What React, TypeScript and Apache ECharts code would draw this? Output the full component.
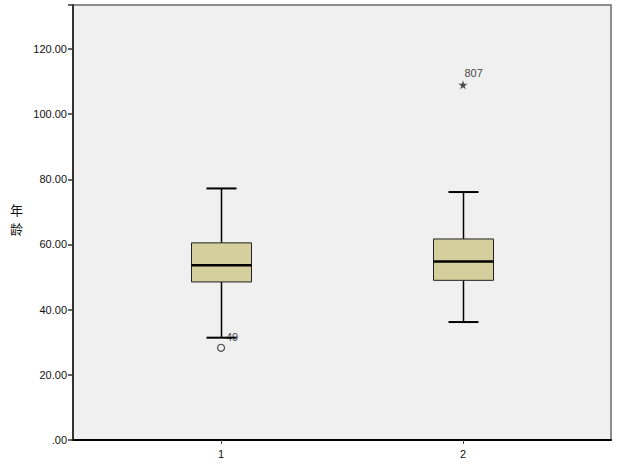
import React, { useEffect, useRef } from "react";
import * as echarts from "echarts";

// Box statistics: [category, lowerWhisker, q1, median, q3, upperWhisker]
const categories = [1, 2];
const lowerWhisker = [31.4, 36.2];
const q1 = [48.5, 49.0];
const median = [53.6, 54.8];
const q3 = [60.5, 61.7];
const upperWhisker = [77.2, 76.1];

// Outliers
const outlierX = [1, 2];
const outlierY = [28.3, 109.0];
const outlierLabels = ["49", "807"];
const outlierKinds = ["circle", "star"];

const yTicks = [0, 20, 40, 60, 80, 100, 120];

const STAR =
  "path://M50,0 L61.8,35.3 L100,35.3 L69.1,57.1 L80.9,92.7 L50,70.8 L19.1,92.7 L30.9,57.1 L0,35.3 L38.2,35.3 Z";

export default function App() {
  const ref = useRef<HTMLDivElement>(null);
  useEffect(() => {
    if (!ref.current) return;
    const chart = echarts.init(ref.current, undefined, { renderer: "svg" });
    const boxData = categories.map((c, i) => [
      c,
      lowerWhisker[i],
      q1[i],
      median[i],
      q3[i],
      upperWhisker[i],
    ]);
    const boxW = 60;
    const capW = 30;
    const option: any = {
      animation: false,
      backgroundColor: "#ffffff",
      grid: {
        left: 73,
        right: 29,
        top: 5,
        bottom: 30,
        show: true,
        backgroundColor: "#f0f0f0",
        borderColor: "#6a6a6a",
        borderWidth: 1.5,
      },
      xAxis: {
        type: "value",
        min: 0.388,
        max: 2.612,
        splitLine: { show: false },
        axisLine: { show: true, onZero: false, lineStyle: { color: "#000", width: 2 } },
        axisTick: {
          show: true,
          customValues: categories,
          length: 4,
          lineStyle: { color: "#444", width: 1 },
        },
        axisLabel: {
          customValues: categories,
          color: "#111",
          fontFamily: "Arial, Liberation Sans",
          fontSize: 11,
          margin: 8,
          formatter: (v: number) => String(v),
        },
      },
      yAxis: {
        type: "value",
        min: 0,
        max: 133.5,
        interval: 20,
        splitLine: { show: false },
        axisLine: { show: true, lineStyle: { color: "#333", width: 2 } },
        axisTick: { show: true, length: 5, lineStyle: { color: "#333", width: 1.5 } },
        axisLabel: {
          color: "#111",
          fontFamily: "Arial, Liberation Sans",
          fontSize: 11,
          margin: 6,
          customValues: yTicks,
          formatter: (v: number) => (v === 0 ? ".00" : v.toFixed(2)),
        },
      },
      graphic: [
        {
          type: "text",
          left: 10,
          top: 203,
          style: { text: "年", font: "13px 'Noto Sans CJK SC'", lineHeight: 13, fill: "#111" },
        },
        {
          type: "text",
          left: 10,
          top: 222,
          style: { text: "龄", font: "13px 'Noto Sans CJK SC'", lineHeight: 13, fill: "#111" },
        },
      ],
      series: [
        {
          type: "custom",
          data: boxData,
          encode: { x: 0, y: [1, 2, 3, 4, 5] },
          renderItem: (params: any, api: any) => {
            const x = api.value(0);
            const pMin = api.coord([x, api.value(1)]);
            const pQ1 = api.coord([x, api.value(2)]);
            const pMed = api.coord([x, api.value(3)]);
            const pQ3 = api.coord([x, api.value(4)]);
            const pMax = api.coord([x, api.value(5)]);
            const cx = Math.round(pMin[0]) + 0.5;
            const line = { stroke: "#000", lineWidth: 1.5 };
            return {
              type: "group",
              children: [
                { type: "line", shape: { x1: cx, y1: pMax[1], x2: cx, y2: pQ3[1] }, style: line },
                { type: "line", shape: { x1: cx, y1: pQ1[1], x2: cx, y2: pMin[1] }, style: line },
                { type: "line", shape: { x1: cx - capW / 2, y1: pMax[1], x2: cx + capW / 2, y2: pMax[1] }, style: { stroke: "#000", lineWidth: 2 } },
                { type: "line", shape: { x1: cx - capW / 2, y1: pMin[1], x2: cx + capW / 2, y2: pMin[1] }, style: { stroke: "#000", lineWidth: 2 } },
                {
                  type: "rect",
                  shape: { x: cx - boxW / 2, y: pQ3[1], width: boxW, height: pQ1[1] - pQ3[1] },
                  style: { fill: "#d4cf9c", stroke: "#222", lineWidth: 1 },
                },
                { type: "line", shape: { x1: cx - boxW / 2, y1: pMed[1], x2: cx + boxW / 2, y2: pMed[1] }, style: { stroke: "#000", lineWidth: 2.5 } },
              ],
            };
          },
        },
        {
          type: "scatter",
          data: outlierX.map((x, i) => ({
            value: [x, outlierY[i]],
            symbol: outlierKinds[i] === "star" ? STAR : "circle",
            symbolSize: outlierKinds[i] === "star" ? 9 : 7,
            itemStyle:
              outlierKinds[i] === "star"
                ? { color: "#222", borderColor: "#222", borderWidth: 0 }
                : { color: "rgba(0,0,0,0)", borderColor: "#222", borderWidth: 1.2 },
            label: {
              show: true,
              formatter: outlierLabels[i],
              position: outlierKinds[i] === "star" ? [6, -13] : [9, -12],
              color: "#111",
              fontFamily: "Arial, Liberation Sans",
              fontSize: 11,
            },
          })),
        },
      ],
    };
    chart.setOption(option);
    return () => chart.dispose();
  }, []);
  return (
    <div
      ref={ref}
      style={{ position: "fixed", left: 0, top: 0, width: 640, height: 470 }}
    />
  );
}
